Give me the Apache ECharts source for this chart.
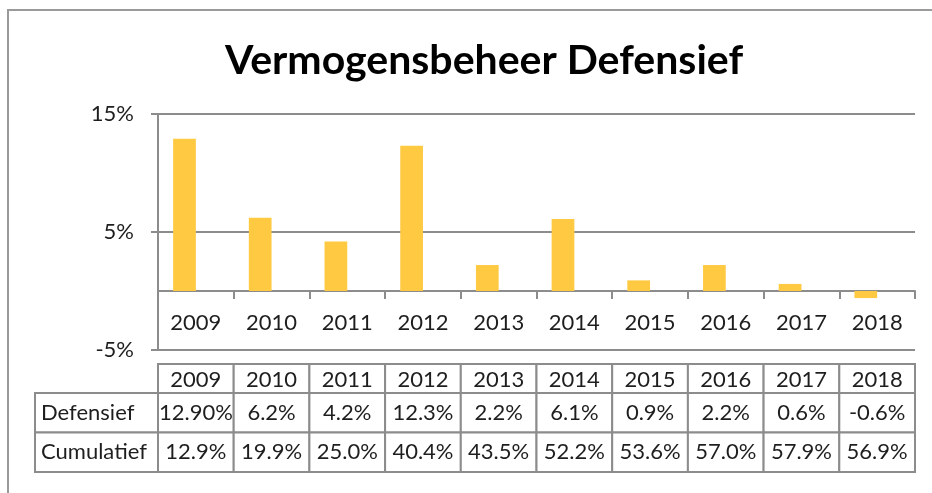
<!DOCTYPE html>
<html>
<head>
    <meta charset="utf-8">
    <script src="https://cdn.jsdelivr.net/npm/echarts@6/dist/echarts.min.js"></script>
    <style>
        html, body { margin: 0; padding: 0; background: #fff; }
        #main { width: 932px; height: 493px; }
    </style>
</head>
<body>
<div id="main"></div>
<script type="text/javascript">
    // data
    var years = ['2009', '2010', '2011', '2012', '2013', '2014', '2015', '2016', '2017', '2018'];
    var defensief = [12.9, 6.2, 4.2, 12.3, 2.2, 6.1, 0.9, 2.2, 0.6, -0.6];
    var cumulatief = [12.9, 19.9, 25.0, 40.4, 43.5, 52.2, 53.6, 57.0, 57.9, 56.9];
    // table text as printed (first cell has two decimals in the original)
    var defensiefText = ['12.90%', '6.2%', '4.2%', '12.3%', '2.2%', '6.1%', '0.9%', '2.2%', '0.6%', '-0.6%'];
    var rowNames = ['Defensief', 'Cumulatief'];
    var yTicks = [-5, 5, 15];

    var font = 'Lato, "Open Sans", sans-serif';
    var gridColor = '#8c8c8c';
    var textColor = '#1e1e1e';

    var myChart = echarts.init(document.getElementById('main'));

    // header row cells
    var headerData = [];
    for (var i = 0; i < years.length; i++) {
        headerData.push([i, 0]);
    }
    // body cells
    var bodyData = [];
    for (var r = 0; r < rowNames.length; r++) {
        for (var c = 0; c < years.length; c++) {
            bodyData.push([c, r]);
        }
    }

    function cellText(row, col) {
        if (row === 0) return defensiefText[col];
        return cumulatief[col].toFixed(1) + '%';
    }

    function cellRect(x, y, w, h) {
        return {
            type: 'rect',
            shape: {x: x, y: y, width: w, height: h},
            style: {fill: '#fff', stroke: gridColor, lineWidth: 2}
        };
    }

    function cellLabel(x, y, txt, align) {
        return {
            type: 'text',
            style: {
                x: x, y: y, text: txt,
                align: align, verticalAlign: 'middle',
                fill: textColor, font: '22px ' + font
            }
        };
    }

    function renderHeader(params, api) {
        var p = api.coord([api.value(0), api.value(1)]);
        var s = api.size([1, 1]);
        return {
            type: 'group',
            children: [
                cellRect(p[0] - s[0] / 2, p[1] - s[1] / 2, s[0], s[1]),
                cellLabel(p[0], p[1] + 1, years[api.value(0)], 'center')
            ]
        };
    }

    function renderBody(params, api) {
        var col = api.value(0), row = api.value(1);
        var p = api.coord([col, row]);
        var s = api.size([1, 1]);
        var kids = [
            cellRect(p[0] - s[0] / 2, p[1] - s[1] / 2, s[0], s[1]),
            cellLabel(p[0], p[1], cellText(row, col), 'center')
        ];
        if (col === 0) {
            var left = params.coordSys.x - 123;
            kids.push(cellRect(left, p[1] - s[1] / 2, params.coordSys.x - left, s[1]));
            kids.push(cellLabel(left + 6, p[1], rowNames[row], 'left'));
        }
        return {type: 'group', children: kids};
    }

    myChart.setOption({
        backgroundColor: '#fff',
        animation: false,
        textStyle: {fontFamily: font},
        title: {
            text: 'Vermogensbeheer Defensief',
            left: 479,
            top: 35,
            textAlign: 'center',
            textStyle: {fontSize: 41, fontWeight: 'bold', color: '#000', fontFamily: font}
        },
        graphic: [{
            type: 'polyline',
            shape: {points: [[8, 500], [8, 10], [940, 10]]},
            style: {stroke: '#9a9a9a', lineWidth: 2, fill: null},
            silent: true
        }],
        grid: [
            {left: 158, right: 17, top: 114, height: 236},
            {left: 158, right: 17, top: 364, height: 29},
            {left: 158, right: 17, top: 393, height: 79}
        ],
        xAxis: [{
            gridIndex: 0,
            type: 'category',
            data: years,
            axisLine: {onZero: true, lineStyle: {color: gridColor, width: 2}},
            axisTick: {show: true, length: 8, lineStyle: {color: gridColor, width: 2}},
            axisLabel: {show: false}
        }, {
            // year labels under the zero line
            gridIndex: 0,
            type: 'category',
            data: years,
            position: 'bottom',
            offset: -38,
            axisLine: {show: false, onZero: false},
            axisTick: {show: false},
            axisLabel: {margin: 0, fontSize: 22, color: textColor, fontFamily: font}
        }, {
            gridIndex: 1, type: 'category', data: years, show: false
        }, {
            gridIndex: 2, type: 'category', data: years, show: false
        }],
        yAxis: [{
            gridIndex: 0,
            type: 'value',
            min: -5,
            max: 15,
            axisLine: {show: true, lineStyle: {color: gridColor, width: 2}},
            axisTick: {show: true, length: 7, customValues: yTicks, lineStyle: {color: gridColor, width: 2}},
            axisLabel: {
                customValues: yTicks,
                margin: 24,
                fontSize: 22,
                color: textColor,
                fontFamily: font,
                formatter: '{value}%'
            },
            splitLine: {show: true, lineStyle: {color: gridColor, width: 2}}
        }, {
            gridIndex: 1, type: 'category', data: [''], show: false
        }, {
            gridIndex: 2, type: 'category', data: rowNames, inverse: true, show: false
        }],
        series: [{
            name: 'Defensief',
            type: 'bar',
            xAxisIndex: 0,
            yAxisIndex: 0,
            data: defensief,
            barGap: '0%',
            barCategoryGap: '40%',
            itemStyle: {color: '#FFC942'}
        }, {
            // Cumulatief is in the chart but drawn without fill
            name: 'Cumulatief',
            type: 'bar',
            xAxisIndex: 0,
            yAxisIndex: 0,
            data: cumulatief,
            itemStyle: {color: 'rgba(0,0,0,0)'},
            silent: true
        }, {
            type: 'custom',
            xAxisIndex: 2,
            yAxisIndex: 1,
            data: headerData,
            renderItem: renderHeader
        }, {
            type: 'custom',
            xAxisIndex: 3,
            yAxisIndex: 2,
            data: bodyData,
            renderItem: renderBody
        }]
    });
</script>
</body>
</html>
